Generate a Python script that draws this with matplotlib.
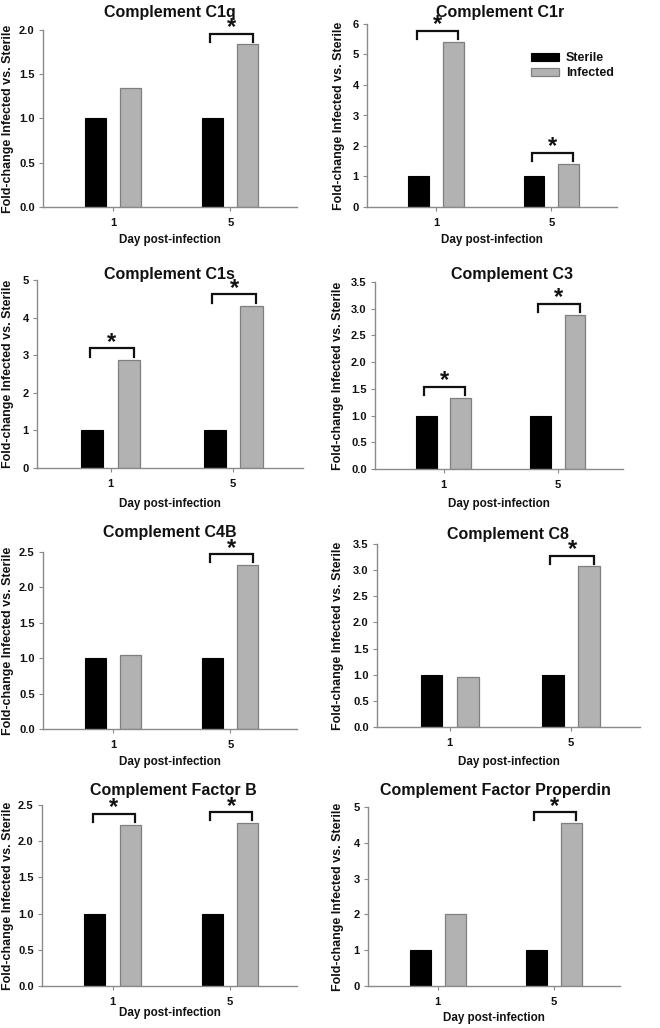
import matplotlib
matplotlib.use("Agg")
import matplotlib.pyplot as plt
import numpy as np

plt.rcParams['font.family'] = ['Liberation Sans', 'DejaVu Sans']
plt.rcParams['font.weight'] = 'bold'

# ---------------- data ----------------
days = ["1", "5"]
titles = ["Complement C1q", "Complement C1r", "Complement C1s", "Complement C3",
          "Complement C4B", "Complement C8", "Complement Factor B",
          "Complement Factor Properdin"]
sterile = [[1, 1], [1, 1], [1, 1], [1, 1], [1, 1], [1, 1], [1, 1], [1, 1]]
infected_c1q = [1.35, 1.84]
infected_c1r = [5.42, 1.42]
infected_c1s = [2.88, 4.32]
infected_c3 = [1.33, 2.88]
infected_c4b = [1.05, 2.32]
infected_c8 = [0.96, 3.07]
infected_fb = [2.23, 2.25]
infected_prop = [2.02, 4.56]
infected = [infected_c1q, infected_c1r, infected_c1s, infected_c3,
            infected_c4b, infected_c8, infected_fb, infected_prop]
significant = [[False, True], [True, True], [True, True], [True, True],
               [False, True], [False, True], [True, True], [False, True]]
ymax = [2.0, 6, 5, 3.5, 2.5, 3.5, 2.5, 5]
ystep = [0.5, 1, 1, 0.5, 0.5, 0.5, 0.5, 1]
series_labels = ["Sterile", "Infected"]

# ---------------- layout (pixels) ----------------
W, H = 660, 1028
# left, right, bottom, top(at ymax)
boxes = [(43, 297, 207, 30), (367, 617, 207, 24),
         (37, 303, 468, 280), (375, 623, 469, 282),
         (43, 297, 729, 552), (377, 640, 727, 544),
         (42, 297, 986, 805), (368, 620, 986, 807)]
title_pos = [(170, 12), (500, 12), (169, 275), (512, 275),
             (170, 532), (508, 534), (173, 790), (495, 791)]
xlabel_y = [240, 240, 504, 504, 762, 762, 1013, 1018]
ylabel_x = [8, 339, 8, 338, 8, 338, 8, 338]

fig = plt.figure(figsize=(W / 100, H / 100), dpi=100)
fig.patch.set_facecolor('white')

spine_col = '#8a8a8a'
black = '#000000'
gray = '#b2b2b2'
gray_edge = '#7f7f7f'
width = 0.18
off = 0.15
x = np.arange(len(days))

for i in range(8):
    l, r, b, t = boxes[i]
    ax = fig.add_axes([l / W, 1 - b / H, (r - l) / W, (b - t) / H])
    b1 = ax.bar(x - off, sterile[i], width, color=black, edgecolor=black,
                linewidth=0.8, label=series_labels[0])
    b2 = ax.bar(x + off, infected[i], width, color=gray, edgecolor=gray_edge,
                linewidth=0.9, label=series_labels[1])
    ax.set_xlim(-0.6, 1.57)
    ax.set_ylim(0, ymax[i])
    ticks = np.arange(0, ymax[i] + ystep[i] / 2, ystep[i])
    ax.set_yticks(ticks)
    if ystep[i] < 1:
        ax.set_yticklabels([f"{v:.1f}" for v in ticks])
    else:
        ax.set_yticklabels([f"{int(round(v))}" for v in ticks])
    ax.set_xticks(x)
    ax.set_xticklabels(days)
    for s in ['top', 'right']:
        ax.spines[s].set_visible(False)
    for s in ['left', 'bottom']:
        ax.spines[s].set_color(spine_col)
        ax.spines[s].set_linewidth(1.0)
    ax.tick_params(axis='both', colors=spine_col, length=3, width=0.8,
                   labelsize=8, labelcolor='#111111', pad=3)
    ax.tick_params(axis='x', pad=5)
    for lab in ax.get_xticklabels() + ax.get_yticklabels():
        lab.set_fontweight('bold')

    # significance brackets
    for j in range(len(days)):
        if significant[i][j]:
            g = infected[i][j]
            top = g + 0.06 * ymax[i]
            leg = 0.045 * ymax[i]
            x0 = x[j] - off - 0.02
            x1 = x[j] + off + 0.04
            ax.plot([x0, x0, x1, x1], [top - leg, top, top, top - leg],
                    color='#111111', lw=1.6, clip_on=False,
                    solid_joinstyle='miter')
            ax.annotate('*', xy=((x0 + x1) / 2, top), xytext=(0, -4),
                        textcoords='offset points', ha='center', va='bottom',
                        fontsize=17, fontweight='bold', color='#111111',
                        annotation_clip=False)

    # title, labels
    tx, ty = title_pos[i]
    fig.text(tx / W, 1 - ty / H, titles[i], ha='center', va='center',
             fontsize=11.5, fontweight='bold', color='#111111')
    fig.text((l + r) / 2 / W, 1 - xlabel_y[i] / H, "Day post-infection",
             ha='center', va='center', fontsize=8.4, fontweight='bold',
             color='#111111')
    fig.text(ylabel_x[i] / W, 1 - ((b + t) / 2) / H,
             "Fold-change Infected vs. Sterile", ha='center', va='center',
             rotation=90, fontsize=9, fontweight='bold', color='#111111')

    if i == 1:
        leg = ax.legend(handles=[b1, b2], loc='upper left',
                        bbox_to_anchor=(531 / W, 1 - 52 / H),
                        bbox_transform=fig.transFigure, frameon=False,
                        fontsize=9, handlelength=2.2, handleheight=0.6,
                        labelspacing=0.25, handletextpad=0.6, borderpad=0,
                        borderaxespad=0)
        for txt in leg.get_texts():
            txt.set_fontweight('bold')
            txt.set_color('#111111')

fig.savefig('out.png', dpi=100, facecolor='white')
